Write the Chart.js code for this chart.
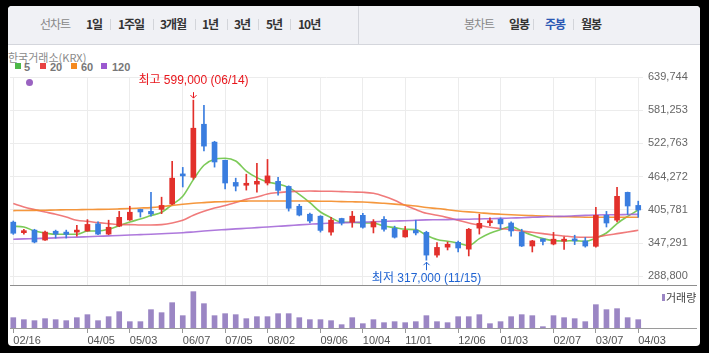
<!DOCTYPE html>
<html>
<head>
<meta charset="utf-8">
<script src="https://cdn.jsdelivr.net/npm/chart.js@4.4.1/dist/chart.umd.min.js"></script>
<style>
body{margin:0;width:709px;height:353px;background:#000;overflow:hidden;position:relative;font-family:"Liberation Sans",Arial,"Noto Sans CJK KR",sans-serif;}
#panel{position:absolute;left:8px;top:6px;width:692px;height:340px;background:#fff;border-radius:4px;}
#topbar{position:absolute;left:8px;top:6px;width:692px;height:38px;background:#f0f1f5;border-bottom:1px solid #d4d6dc;border-radius:4px 4px 0 0;}
.t{position:absolute;top:16px;font-size:12px;line-height:16px;white-space:nowrap;letter-spacing:-1px;font-family:"Noto Sans CJK KR",sans-serif;font-weight:bold;color:#333;}
.t.g{font-weight:normal;color:#888;}
.t.on{color:#2b58b4;}
.sep{position:absolute;top:19px;width:1px;height:11px;background:#d3d5da;}
.lab{position:absolute;font-size:11px;line-height:12px;white-space:nowrap;}
.sq{position:absolute;top:63px;width:6px;height:6px;}
.hl{position:absolute;left:10px;width:687px;height:1px;background:#8e8e8e;}
canvas{position:absolute;left:0;}
</style>
</head>
<body>
<div id="panel"></div>
<div id="topbar"></div>
<div style="position:absolute;left:358px;top:6px;width:1px;height:38px;background:#d4d6dc"></div>

<div class="t g" style="left:40px">선차트</div>
<div class="t" style="left:86px">1일</div>
<div class="sep" style="left:110px"></div>
<div class="t" style="left:118px">1주일</div>
<div class="sep" style="left:153px"></div>
<div class="t" style="left:160px">3개월</div>
<div class="sep" style="left:195px"></div>
<div class="t" style="left:202px">1년</div>
<div class="sep" style="left:227px"></div>
<div class="t" style="left:234px">3년</div>
<div class="sep" style="left:258px"></div>
<div class="t" style="left:266px">5년</div>
<div class="sep" style="left:290px"></div>
<div class="t" style="left:298px">10년</div>

<div class="t g" style="left:464px">봉차트</div>
<div class="t" style="left:509px">일봉</div>
<div class="sep" style="left:533px"></div>
<div class="t on" style="left:545px">주봉</div>
<div class="sep" style="left:573px"></div>
<div class="t" style="left:581px">월봉</div>

<div class="lab" style="left:8px;top:51px;color:#8a8a8a;font-family:'Noto Sans CJK KR',sans-serif;">한국거래소(KRX)</div>
<div class="sq" style="left:15px;background:#4db848"></div>
<div class="lab" style="left:24px;top:61px;color:#777;font-weight:bold">5</div>
<div class="sq" style="left:40px;background:#e84242"></div>
<div class="lab" style="left:50px;top:61px;color:#777;font-weight:bold">20</div>
<div class="sq" style="left:71px;background:#f5891f"></div>
<div class="lab" style="left:81px;top:61px;color:#777;font-weight:bold">60</div>
<div class="sq" style="left:101px;background:#9b59d0"></div>
<div class="lab" style="left:112px;top:61px;color:#777;font-weight:bold">120</div>
<div style="position:absolute;left:26px;top:79px;width:7px;height:7px;border-radius:50%;background:#9a63c1"></div>

<canvas id="main" width="709" height="235" style="top:50px"></canvas>
<canvas id="vol" width="709" height="62" style="top:286px"></canvas>
<div class="hl" style="top:285px"></div>
<div class="hl" style="top:328px;background:#9a9a9a"></div>
<div style="position:absolute;left:662px;top:294px;width:3px;height:7px;background:#9b86c4"></div>
<div class="lab" style="left:666px;top:291px;color:#444;font-family:'Noto Sans CJK KR',sans-serif;">거래량</div>

<script>
// weekly candles, 60 weeks (02/16 .. 04/03)
var opens = [384000,365500,370000,352500,368000,366500,366500,368500,381000,363000,
  377000,388000,406500,403000,406500,416000,468500,463000,556500,525000,
  493000,454000,449000,451000,453000,456000,447000,412000,398000,394500,
  366500,390500,384000,396000,375500,389000,373000,358000,369500,366000,
  326000,340000,348500,336500,373500,383000,389000,382500,366500,342000,
  354500,345500,350500,354000,351000,341500,396000,387500,436500,413500];
var highs = [386000,371500,371500,368500,370000,370000,378500,388500,384500,387500,
  403000,412000,407000,436500,428000,491000,480500,599000,590000,526500,
  493500,461500,468500,487500,494500,463000,448000,415500,400000,395500,
  392500,391000,403000,399500,388500,394000,377000,376500,387500,368000,
  348000,349000,350500,373000,398000,391500,391500,384500,371500,352000,
  354500,366000,358000,361000,357000,410000,403000,445500,437000,421000];
var lows = [362500,363000,347500,352000,356000,356000,359500,368000,362000,362000,
  376000,387000,393000,394500,399000,415000,446000,459500,509500,481000,
  442500,439000,440500,437000,449500,431500,403500,395000,382500,366500,
  361000,379000,375000,373500,365000,368000,356000,357500,361500,317000,
  322500,335000,331500,324500,363000,378000,371500,359500,341000,331500,
  344000,344000,336000,344500,340000,340000,375500,384500,397500,392500];
var closes = [364500,369000,349000,366500,363000,362500,370000,380000,363000,375000,
  392500,401500,402000,398500,413500,461500,465500,549500,518000,490000,
  453000,447500,452500,456000,465500,440000,408500,396500,386000,369500,
  387500,382500,394500,375000,384500,371500,357500,369500,365000,326000,
  339500,345000,338500,371500,382000,386000,381000,368500,342000,351000,
  350000,354000,352000,351000,342000,396000,382500,429500,412500,405500];

var ma5 = [376700,375500,368400,364900,362600,362600,362600,368400,368400,371400,
  377900,384300,389600,395600,401400,414900,429600,459000,484200,494700,
  496500,491800,474100,462500,454800,451200,444900,433100,418500,401900,
  392000,383800,383800,382500,382500,377200,374400,371400,370900,360900,
  353300,350300,347300,342700,355000,364400,370900,376200,368400,360900,
  355000,351500,350800,351500,350300,356100,364900,381500,394300,405400];
var ma20 = [416700,410700,406100,401900,397800,393100,387300,385500,383200,381500,
  379700,379700,379000,379000,379700,382500,387300,396100,403100,408900,
  413200,418500,424300,428300,433600,436100,437800,438400,438900,438400,
  438400,437800,437100,436600,434800,429600,422500,413700,406100,399600,
  396100,392000,387300,382500,378500,374900,372700,370900,368400,366100,
  363800,361400,359600,357900,357300,357900,360900,363800,366700,369700];
var ma60 = [404400,404500,404700,405100,405400,405800,406000,406300,406500,406800,
  407400,408100,408900,409700,411400,413500,415500,417200,418500,419700,
  420200,420800,421100,421300,421300,421300,421300,421300,421100,420900,
  420800,420200,419900,419500,418500,417200,415800,414200,412500,409800,
  408100,406000,403800,402100,400700,399100,398000,397100,396300,395600,
  394900,394100,393600,393300,392700,392600,392600,392600,392600,392600];
var ma120 = [353800,354500,355000,355700,356400,357200,357700,358400,359100,359800,
  360500,361400,362100,362800,363700,364400,365400,366800,368300,369700,
  370900,372100,373200,374400,375500,376700,377900,379200,380400,381500,
  382200,382900,383400,384100,384600,385300,386000,386600,387300,388000,
  388200,388500,388900,389200,389700,390100,390600,391300,391900,392600,
  393300,394000,394500,395200,395900,396600,397000,397100,397500,397800];

var volumes = [62000,50000,44000,56000,50000,44000,62000,80000,44000,68000,
  98000,38000,38000,110000,92000,152000,74000,218000,146000,74000,
  86000,80000,56000,68000,68000,86000,86000,62000,50000,50000,
  44000,20000,62000,26000,50000,32000,38000,32000,38000,74000,
  38000,32000,68000,68000,80000,26000,38000,68000,80000,74000,
  8000,74000,62000,56000,38000,140000,110000,116000,62000,50000];

var tickIdx = [0,7,11,16,20,24,29,33,37,42,46,51,55,59];
var tickLabels = ['02/16','04/05','05/03','06/07','07/05','08/02','09/06','10/04','11/01','12/06','01/03','02/07','03/07','04/03'];
var yTicks = [288800,347291,405781,464272,522763,581253,639744];

var hiIdx = 17, hiVal = 599000, hiText = '최고 599,000 (06/14)';
var loIdx = 39, loVal = 317000, loText = '최저 317,000 (11/15)';

var RED = '#e2302b', BLUE = '#3a7ddf';
var candleCol = closes.map((c, i) => c >= opens[i] ? RED : BLUE);
var xMin = -0.31, xMax = 59.45;

function line(data, color) {
  return {
    type: 'line', data: data.map((v, i) => ({x: i, y: v})),
    borderColor: color, borderWidth: 1.6, pointRadius: 0,
    cubicInterpolationMode: 'monotone', order: 2
  };
}

// draws the max / min markers
const markPlugin = {
  id: 'marks',
  afterDatasetsDraw(chart) {
    const ctx = chart.ctx, xs = chart.scales.x, ys = chart.scales.y;
    ctx.save();
    ctx.font = '12px "Liberation Sans", "Noto Sans CJK KR", sans-serif';
    ctx.textAlign = 'center';
    ctx.textBaseline = 'middle';
    ctx.lineWidth = 1;

    let x = Math.round(xs.getPixelForValue(hiIdx)) + 0.5, y = ys.getPixelForValue(hiVal);
    ctx.strokeStyle = ctx.fillStyle = '#e8161c';
    ctx.beginPath(); ctx.moveTo(x, y - 8); ctx.lineTo(x, y - 2);
    ctx.moveTo(x - 3, y - 5); ctx.lineTo(x, y - 2); ctx.lineTo(x + 3, y - 5); ctx.stroke();
    ctx.fillText(hiText, x, y - 19);

    x = Math.round(xs.getPixelForValue(loIdx)) + 0.5; y = ys.getPixelForValue(loVal);
    ctx.strokeStyle = ctx.fillStyle = '#1f63d2';
    ctx.beginPath(); ctx.moveTo(x, y + 10); ctx.lineTo(x, y + 2);
    ctx.moveTo(x - 3, y + 5); ctx.lineTo(x, y + 2); ctx.lineTo(x + 3, y + 5); ctx.stroke();
    ctx.fillText(loText, x, y + 18);
    ctx.restore();
  }
};

Chart.defaults.font.family = '"Liberation Sans", Arial, sans-serif';

new Chart(document.getElementById('main'), {
  data: {
    datasets: [
      {type: 'bar', data: lows.map((l, i) => ({x: i, y: [l, highs[i]]})), backgroundColor: candleCol,
       barThickness: 1, grouped: false, order: 1},
      {type: 'bar', data: opens.map((o, i) => ({x: i, y: [o, closes[i]]})), backgroundColor: candleCol,
       barThickness: 5, minBarLength: 2, grouped: false, order: 0},
      line(ma120, 'rgba(160,98,214,0.85)'),
      line(ma60, 'rgba(244,140,40,0.9)'),
      line(ma20, 'rgba(236,90,90,0.8)'),
      line(ma5, 'rgba(110,196,70,0.9)')
    ]
  },
  options: {
    responsive: false, animation: false, devicePixelRatio: 1,
    layout: {padding: {left: 10, top: 27, right: 0, bottom: 0}},
    plugins: {legend: {display: false}, tooltip: {enabled: false}},
    scales: {
      x: {
        type: 'linear', min: xMin, max: xMax, offset: false,
        afterBuildTicks: s => { s.ticks = tickIdx.map(v => ({value: v})); },
        grid: {color: '#ececec', drawTicks: false, offset: false},
        border: {display: false},
        ticks: {display: false}
      },
      y: {
        position: 'right', min: 273300, max: 639744,
        afterBuildTicks: s => { s.ticks = yTicks.map(v => ({value: v})); },
        afterFit: s => { s.width = 66; s.paddingTop = 0; s.paddingBottom = 0; },
        grid: {color: '#ececec', drawTicks: false},
        border: {display: false},
        ticks: {color: '#666', font: {size: 11}, padding: 5,
                callback: v => v.toLocaleString('en-US')}
      }
    }
  },
  plugins: [markPlugin]
});

new Chart(document.getElementById('vol'), {
  type: 'bar',
  data: {
    datasets: [{data: volumes.map((v, i) => ({x: i, y: v})), backgroundColor: '#9b86c4', barThickness: 5}]
  },
  options: {
    responsive: false, animation: false, devicePixelRatio: 1,
    layout: {padding: {left: 10, top: 0, right: 0, bottom: 0}},
    plugins: {legend: {display: false}, tooltip: {enabled: false}},
    scales: {
      x: {
        type: 'linear', min: xMin, max: xMax, offset: false,
        afterBuildTicks: s => { s.ticks = tickIdx.map(v => ({value: v})); },
        afterFit: s => { s.height = 20; s.paddingLeft = 0; s.paddingRight = 0; },
        grid: {drawOnChartArea: false, color: '#999', tickLength: 5, offset: false},
        border: {display: false},
        ticks: {align: 'start', color: '#555', font: {size: 11}, padding: 1, maxRotation: 0, autoSkip: false,
                callback: (v, i) => tickLabels[i]}
      },
      y: {
        min: 0, max: 252000, position: 'right',
        afterFit: s => { s.width = 66; },
        grid: {display: false}, border: {display: false},
        ticks: {display: false}
      }
    }
  }
});
</script>
</body>
</html>
